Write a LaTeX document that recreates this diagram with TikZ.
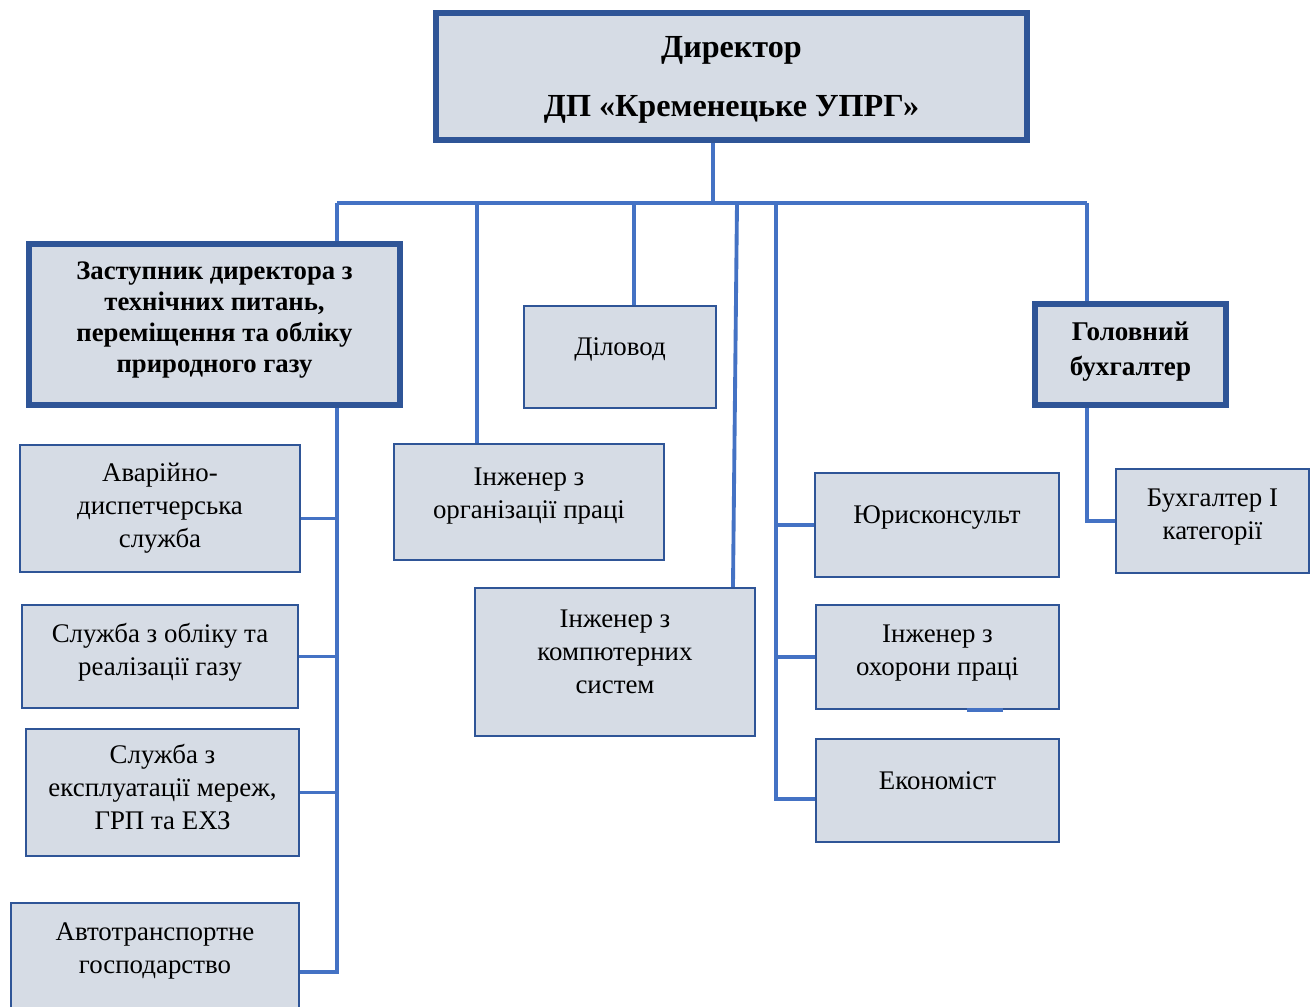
\documentclass[tikz,border=0pt]{standalone}
\usepackage{fontspec}
\setmainfont{Liberation Serif}
\definecolor{boxfill}{HTML}{D6DCE5}
\definecolor{boxline}{HTML}{2F5597}
\definecolor{linkblue}{HTML}{4472C4}

\begin{document}
\begin{tikzpicture}[x=0.02cm,y=-0.02cm,
  box/.style={draw=boxline,fill=boxfill,align=center,inner sep=0pt},
  unit/.style={box,line width=1.4pt,font=\fontsize{15.3}{18.8}\selectfont,text depth=0.45cm},
  head/.style={box,line width=3.4pt,font=\bfseries\fontsize{15.2}{17.6}\selectfont},
  link/.style={draw=linkblue,line width=2.2pt}]
  \useasboundingbox (0,0) rectangle (1315,1007);
  % top of the chart
  \node[head,minimum width=11.82cm,minimum height=2.54cm,text depth=0pt,font=\bfseries\fontsize{18.3}{21.6}\selectfont] (dir) at (731.5,76.5) {Директор\\[12pt]ДП «Кременецьке УПРГ»};
  \node[head,minimum width=7.42cm,minimum height=3.22cm,text depth=0.3cm] (dep) at (214.5,324.5) {Заступник директора з\\технічних питань,\\переміщення та обліку\\природного газу};
  \node[head,minimum width=3.82cm,minimum height=2.02cm,text depth=0.22cm,font=\bfseries\fontsize{15.4}{19.9}\selectfont] (gol) at (1130.5,354.5) {Головний\\бухгалтер};
  \node[unit,minimum width=3.84cm,minimum height=2.04cm,text depth=0.41cm] (dil) at (620,357) {Діловод};
  % left column
  \node[unit,minimum width=5.6cm,minimum height=2.54cm,text depth=0.13cm] (avar) at (160,508.5) {Аварійно-\\диспетчерська\\служба};
  \node[unit,minimum width=5.52cm,minimum height=2.06cm,text depth=0.29cm] (obl) at (160,656.5) {Служба з обліку та\\реалізації газу};
  \node[unit,minimum width=5.46cm,minimum height=2.54cm,text depth=0.21cm] (eksp) at (162.5,792.5) {Служба з\\експлуатації мереж,\\ГРП та ЕХЗ};
  \node[unit,minimum width=5.76cm,minimum height=2.16cm,text depth=0.37cm] (avto) at (155,957) {Автотранспортне\\господарство};
  % middle
  \node[unit,minimum width=5.4cm,minimum height=2.32cm,text depth=0.37cm] (org) at (529,502) {Інженер з\\організації праці};
  \node[unit,minimum width=5.6cm,minimum height=2.96cm,text depth=0.41cm] (komp) at (615,662) {Інженер з\\компютерних\\систем};
  % right column
  \node[unit,minimum width=4.88cm,minimum height=2.08cm,text depth=0.41cm] (yur) at (937,525) {Юрисконсульт};
  \node[unit,minimum width=4.86cm,minimum height=2.08cm,text depth=0.29cm] (ohor) at (937.5,657) {Інженер з\\охорони праці};
  \node[unit,minimum width=4.86cm,minimum height=2.06cm,text depth=0.41cm] (ekon) at (937.5,790.5) {Економіст};
  \node[unit,minimum width=3.86cm,minimum height=2.08cm,text depth=0.29cm] (buh) at (1212.5,521) {Бухгалтер І\\категорії};

  \coordinate (busL) at (337,203);
  \coordinate (busR) at (1087,203);
  \coordinate (jdir) at (713,203);
  \coordinate (jorg) at (477,203);
  \coordinate (jdil) at (634,203);
  \coordinate (jkomp) at (737,203);
  \coordinate (jr) at (776,203);

  \draw[link] (jdir |- dir.south) -- (jdir);
  \draw[link] (busL) -- (busR);
  \draw[link] (busL) -- (busL |- dep.north);
  \draw[link] (jorg) -- (jorg |- org.north);
  \draw[link] (jdil) -- (jdil |- dil.north);
  \draw[link] (jkomp) -- ([xshift=2.36cm]komp.north);
  \draw[link] (busR) -- (busR |- gol.north);
  \draw[link] (gol.south -| busR) |- (buh.west);
  % left branch
  \draw[link] (dep.south -| busL) |- ([yshift=-0.3cm]avto.east);
  \draw[link] ([yshift=-0.2cm]avar.east) -- ([yshift=-0.2cm]avar.east -| busL);
  \draw[link] (obl.east) -- (obl.east -| busL);
  \draw[link] (eksp.east) -- (eksp.east -| busL);
  % right branch
  \draw[link] (jr) |- ([yshift=-0.17cm]ekon.west);
  \draw[link] (yur.west -| jr) -- (yur.west);
  \draw[link] (ohor.west -| jr) -- (ohor.west);
  \draw[link] ([xshift=0.59cm]ohor.south) -- ([xshift=1.31cm]ohor.south);
\end{tikzpicture}
\end{document}
